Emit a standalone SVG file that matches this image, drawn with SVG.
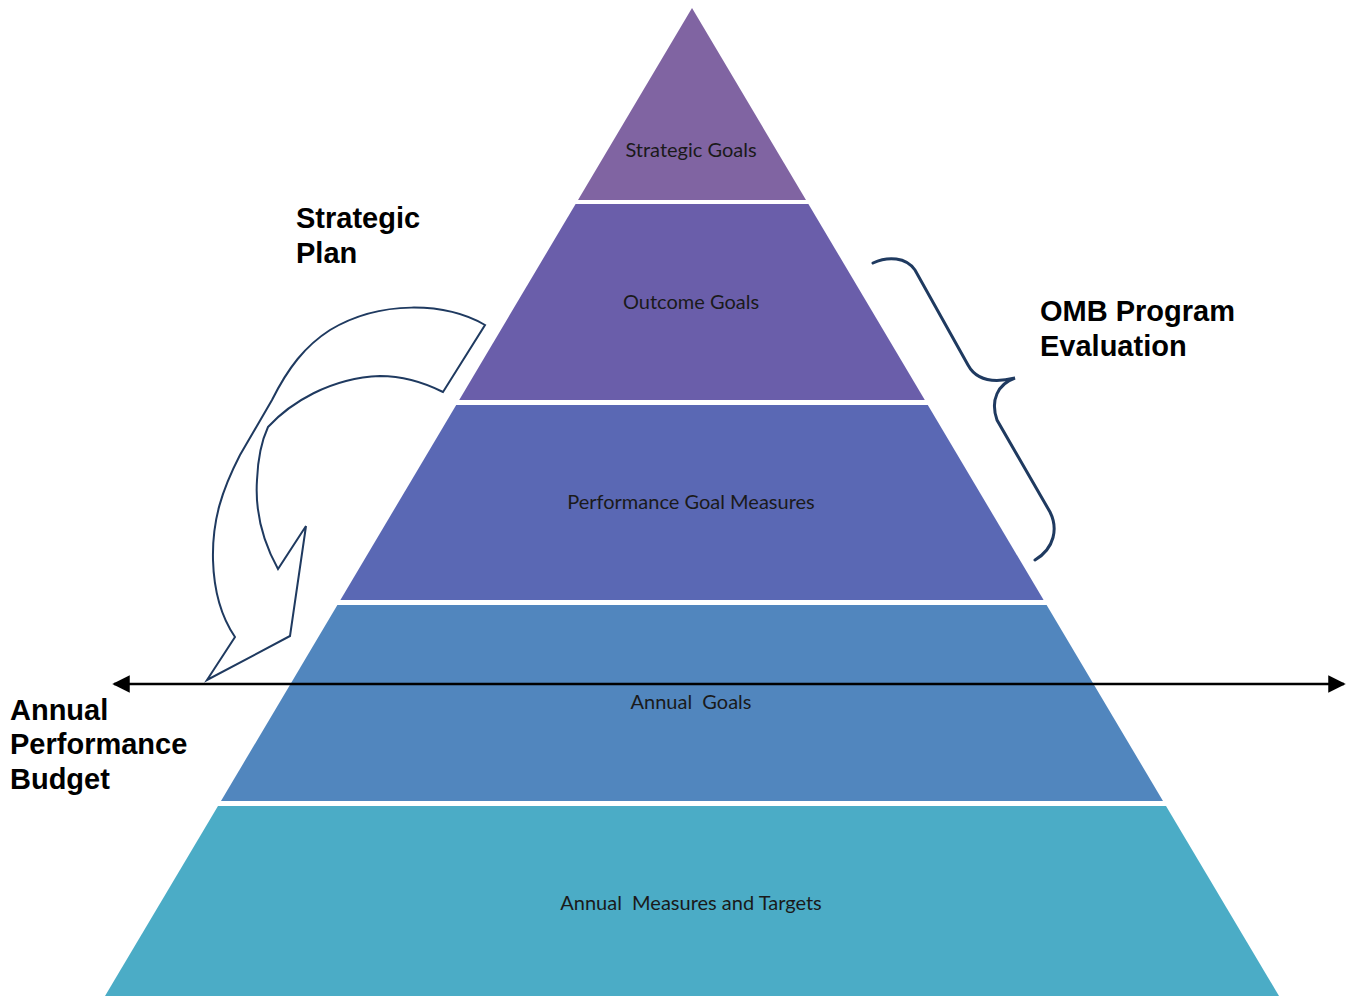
<svg xmlns="http://www.w3.org/2000/svg" width="1346" height="996" viewBox="0 0 1346 996">
<style>
.lbl{font-family:Lato,"Open Sans",sans-serif;font-size:20px;fill:#1a1a1a;text-anchor:middle}
.big{font-family:"Liberation Sans",Arial,sans-serif;font-size:29px;font-weight:bold;fill:#000}
.outline{fill:#fff;stroke:#1F3A60;stroke-width:2;stroke-linejoin:miter}
.brace{fill:none;stroke:#1F3A60;stroke-width:3;stroke-linecap:round}
</style>
<defs>
<marker id="ah" viewBox="0 0 10 10" refX="9" refY="5" markerWidth="7" markerHeight="7" markerUnits="strokeWidth" orient="auto-start-reverse">
<path d="M0,0 L10,5 L0,10 Z" fill="#000"/>
</marker>
</defs>
<rect width="1346" height="996" fill="#fff"/>
<g id="band1"><polygon points="692,8 806,200 578,200" fill="#8064A2"/><text class="lbl" x="691" y="157">Strategic Goals</text></g>
<g id="band2"><polygon points="575.6,204 808.4,204 924.8,400 459.2,400" fill="#6A5EAA"/><text class="lbl" x="691" y="309">Outcome Goals</text></g>
<g id="band3"><polygon points="456.2,405 927.8,405 1043.6,600 340.4,600" fill="#5A68B4"/><text class="lbl" x="691" y="509">Performance Goal Measures</text></g>
<g id="band4"><polygon points="337.4,605 1046.6,605 1163,801 221,801" fill="#5186BE"/><text class="lbl" x="691" y="709" xml:space="preserve">Annual  Goals</text></g>
<g id="band5"><polygon points="218,806 1166,806 1279,996 105,996" fill="#4BACC6"/><text class="lbl" x="691" y="910" xml:space="preserve">Annual  Measures and Targets</text></g>
<g id="curved-arrow">
<path class="outline" d="M485,325 C445,302 380,300 330,330 C305,346 288,368 272,400 L240,455 C222,490 212,520 213,560 C214,595 222,618 235,637 L207,680 L290,636 L306,526 L278,569 C262,540 255,510 257,480 C258,455 262,440 268,427 C290,403 330,378 380,376 C405,376 425,383 443,392 Z"/>
</g>
<g id="brace">
<path class="brace" d="M873,263 C888,256 906,257 915,270 L968,365 C975,378 990,384 1015,378 C998,384 990,400 997,420 L1050,512 C1058,528 1055,548 1035,560"/>
</g>
<g id="connectors">
<line x1="114" y1="684" x2="1344" y2="684" stroke="#000" stroke-width="2.5" marker-start="url(#ah)" marker-end="url(#ah)"/>
</g>
<g id="strategic-plan"><text class="big" x="296" y="228">Strategic</text><text class="big" x="296" y="263">Plan</text></g>
<g id="omb"><text class="big" x="1040" y="321">OMB Program</text><text class="big" x="1040" y="356">Evaluation</text></g>
<g id="apb"><text class="big" x="10" y="720">Annual</text><text class="big" x="10" y="754">Performance</text><text class="big" x="10" y="789">Budget</text></g>
</svg>
